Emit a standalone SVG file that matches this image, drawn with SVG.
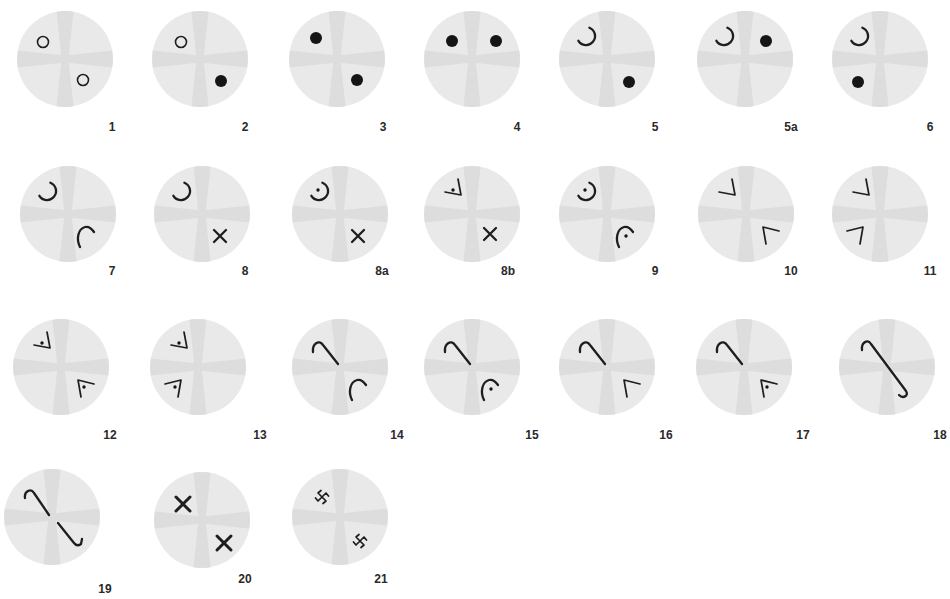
<svg xmlns="http://www.w3.org/2000/svg" xmlns:xlink="http://www.w3.org/1999/xlink" width="950" height="599" viewBox="0 0 950 599">
<style>
.s{fill:none;stroke:#1e1e1e;stroke-width:2.3;stroke-linecap:round;stroke-linejoin:round}
.t{stroke-width:1.7}
.d{fill:#151515}
.lb{font-family:"Liberation Sans",Arial,sans-serif;font-weight:bold;font-size:12px;fill:#2a2a2a;text-anchor:middle}
</style>
<defs>
<g id="disc">
<circle r="48" fill="#e9e9e9"/>
<path id="arm" d="M-3.5,0 L-8.5,-47.2 A48 48 0 0 1 8.5,-47.2 L3.5,0 Z" fill="#dddddd"/>
<use xlink:href="#arm" transform="rotate(90)"/>
<use xlink:href="#arm" transform="rotate(180)"/>
<use xlink:href="#arm" transform="rotate(270)"/>
</g>
<circle id="ring" r="5.5" fill="none" stroke="#1e1e1e" stroke-width="1.6"/>
<circle id="dot" r="6" class="d"/>
<circle id="pt" r="1.7" class="d"/>
<path id="hook" class="s" d="M-17.6,-31.3 A9 9 0 1 1 -28.6,-18.2"/>
<path id="arch" class="s" d="M12,33 C8,25 10,15 17,13 C21,12 24,15 26,18"/>
<path id="angUL" class="s t" d="M-14,-35 L-11,-19 L-27,-22"/>
<path id="angLR" class="s t" d="M33,17 L17,13 L20,30"/>
<path id="angLL" class="s t" d="M-33,17 L-17,13 L-20,30"/>
<path id="cane" class="s" d="M-27,-15 C-28,-23 -21,-28 -17,-22 L-2,-3"/>
<path id="x" class="s" d="M-6,-6 L6,6 M6,-6 L-6,6"/>
<path id="bx" class="s" style="stroke-width:3" d="M-7,-7 L7,7 M7,-7 L-7,7"/>
<path id="pw" class="s t" d="M0,0 L-4,-4 L-1,-6.5 M0,0 L4,-4 L6.5,-1 M0,0 L4,4 L1,6.5 M0,0 L-4,4 L-6.5,1"/>
</defs>

<g id="n1" transform="translate(65,59)"><use xlink:href="#disc"/><use xlink:href="#ring" x="-22" y="-17"/><use xlink:href="#ring" x="18" y="21"/></g>
<g id="n2" transform="translate(200,59)"><use xlink:href="#disc"/><use xlink:href="#ring" x="-19" y="-17"/><use xlink:href="#dot" x="21" y="22"/></g>
<g id="n3" transform="translate(337,59)"><use xlink:href="#disc"/><use xlink:href="#dot" x="-21" y="-21"/><use xlink:href="#dot" x="20" y="21"/></g>
<g id="n4" transform="translate(472,59)"><use xlink:href="#disc"/><use xlink:href="#dot" x="-20" y="-18"/><use xlink:href="#dot" x="24" y="-18"/></g>
<g id="n5" transform="translate(607,59)"><use xlink:href="#disc"/><use xlink:href="#hook"/><use xlink:href="#dot" x="22" y="23"/></g>
<g id="n5a" transform="translate(745,59)"><use xlink:href="#disc"/><use xlink:href="#hook"/><use xlink:href="#dot" x="21" y="-18"/></g>
<g id="n6" transform="translate(880,59)"><use xlink:href="#disc"/><use xlink:href="#hook"/><use xlink:href="#dot" x="-22" y="23"/></g>

<g id="n7" transform="translate(68,214)"><use xlink:href="#disc"/><use xlink:href="#hook"/><use xlink:href="#arch"/></g>
<g id="n8" transform="translate(202,214)"><use xlink:href="#disc"/><use xlink:href="#hook"/><use xlink:href="#x" x="18" y="22"/></g>
<g id="n8a" transform="translate(340,214)"><use xlink:href="#disc"/><use xlink:href="#hook"/><use xlink:href="#pt" x="-22" y="-24"/><use xlink:href="#x" x="18" y="22"/></g>
<g id="n8b" transform="translate(472,214)"><use xlink:href="#disc"/><use xlink:href="#angUL"/><use xlink:href="#pt" x="-19" y="-24"/><use xlink:href="#x" x="18" y="20"/></g>
<g id="n9" transform="translate(607,214)"><use xlink:href="#disc"/><use xlink:href="#hook"/><use xlink:href="#pt" x="-22" y="-24"/><use xlink:href="#arch"/><use xlink:href="#pt" x="19" y="22"/></g>
<g id="n10" transform="translate(746,214)"><use xlink:href="#disc"/><use xlink:href="#angUL"/><use xlink:href="#angLR"/></g>
<g id="n11" transform="translate(880,214)"><use xlink:href="#disc"/><use xlink:href="#angUL"/><use xlink:href="#angLL"/></g>

<g id="n12" transform="translate(61,367)"><use xlink:href="#disc"/><use xlink:href="#angUL"/><use xlink:href="#pt" x="-19" y="-24"/><use xlink:href="#angLR"/><use xlink:href="#pt" x="23" y="20"/></g>
<g id="n13" transform="translate(198,367)"><use xlink:href="#disc"/><use xlink:href="#angUL"/><use xlink:href="#pt" x="-19" y="-24"/><use xlink:href="#angLL"/><use xlink:href="#pt" x="-23" y="20"/></g>
<g id="n14" transform="translate(340,367)"><use xlink:href="#disc"/><use xlink:href="#cane"/><use xlink:href="#arch"/></g>
<g id="n15" transform="translate(472,367)"><use xlink:href="#disc"/><use xlink:href="#cane"/><use xlink:href="#arch"/><use xlink:href="#pt" x="19" y="22"/></g>
<g id="n16" transform="translate(607,367)"><use xlink:href="#disc"/><use xlink:href="#cane"/><use xlink:href="#angLR"/></g>
<g id="n17" transform="translate(744,367)"><use xlink:href="#disc"/><use xlink:href="#cane"/><use xlink:href="#angLR"/><use xlink:href="#pt" x="23" y="20"/></g>
<g id="n18" transform="translate(887,367)"><use xlink:href="#disc"/><path class="s" d="M-25,-17 C-26,-25 -19,-28 -16,-23 L19,24 C22,29 16,32 12,28"/></g>

<g id="n19" transform="translate(52,517)"><use xlink:href="#disc"/><path class="s" d="M-27,-19 C-28,-26 -21,-29 -18,-24 L-3,-2"/><path class="s" d="M6,6 L22,26 Q25,30 29,27 L30,22"/></g>
<g id="n20" transform="translate(202,520)"><use xlink:href="#disc"/><use xlink:href="#bx" x="-19" y="-16"/><use xlink:href="#bx" x="22" y="23"/></g>
<g id="n21" transform="translate(340,517)"><use xlink:href="#disc"/><use xlink:href="#pw" x="-18" y="-20"/><use xlink:href="#pw" x="20" y="24"/></g>

<g id="labels">
<text class="lb" x="112" y="131">1</text>
<text class="lb" x="245" y="131">2</text>
<text class="lb" x="383" y="131">3</text>
<text class="lb" x="517" y="131">4</text>
<text class="lb" x="655" y="131">5</text>
<text class="lb" x="791" y="131">5a</text>
<text class="lb" x="930" y="131">6</text>
<text class="lb" x="112" y="275">7</text>
<text class="lb" x="245" y="275">8</text>
<text class="lb" x="382" y="275">8a</text>
<text class="lb" x="508" y="275">8b</text>
<text class="lb" x="655" y="275">9</text>
<text class="lb" x="791" y="275">10</text>
<text class="lb" x="930" y="275">11</text>
<text class="lb" x="110" y="439">12</text>
<text class="lb" x="260" y="439">13</text>
<text class="lb" x="397" y="439">14</text>
<text class="lb" x="532" y="439">15</text>
<text class="lb" x="666" y="439">16</text>
<text class="lb" x="803" y="439">17</text>
<text class="lb" x="940" y="439">18</text>
<text class="lb" x="105" y="593">19</text>
<text class="lb" x="245" y="583">20</text>
<text class="lb" x="381" y="583">21</text>
</g>
</svg>
